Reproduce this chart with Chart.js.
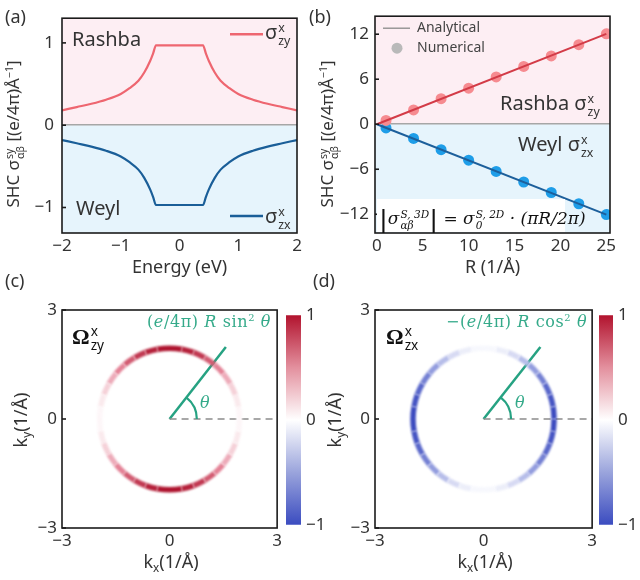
<!DOCTYPE html>
<html>
<head>
<meta charset="utf-8">
<script src="https://cdn.jsdelivr.net/npm/chart.js@4.4.0/dist/chart.umd.min.js"></script>
<style>
html, body { margin: 0; padding: 0; background: #fff; }
#fig { position: relative; width: 640px; height: 580px; overflow: hidden; font-family: "Noto Sans", sans-serif; color: #333; }
canvas { position: absolute; }
.t { position: absolute; white-space: nowrap; line-height: 1; }
.c { transform: translate(-50%, -50%); }
.rot { transform: translate(-50%, -50%) rotate(-90deg); }
.st { display: inline-flex; flex-direction: column; font-size: 0.62em; line-height: 1; vertical-align: 0.55em; margin-left: 1px; }
.sp { font-size: 0.62em; vertical-align: 0.6em; line-height: 0; }
.serif { font-family: "DejaVu Serif", "Liberation Serif", serif; }
.green { color: #35aa8a; letter-spacing: 0.6px; }
.bigbar { font-family: "Liberation Sans", sans-serif; font-size: 1.55em; vertical-align: -0.16em; line-height: 0; font-style: normal; margin: 0 1px; }
</style>
</head>
<body>
<div id="fig">
  <canvas id="cA" width="310" height="290" style="left:0;top:0"></canvas>
  <canvas id="cB" width="320" height="290" style="left:320px;top:0"></canvas>
  <canvas id="cC" width="285" height="290" style="left:0;top:290px"></canvas>
  <canvas id="cD" width="280" height="290" style="left:320px;top:290px"></canvas>
  <canvas id="barC" width="45" height="240" style="left:283px;top:300px"></canvas>
  <canvas id="barD" width="44" height="240" style="left:596px;top:300px"></canvas>

  <div class="t" style="left:5px;top:7px;font-size:18px">(a)</div>
  <div class="t" style="left:309px;top:7px;font-size:18px">(b)</div>
  <div class="t" style="left:5px;top:271px;font-size:18px">(c)</div>
  <div class="t" style="left:313px;top:271px;font-size:18px">(d)</div>

  <div class="t rot" style="left:15px;top:134px;font-size:17px">SHC σ<span class="st"><span>sy</span><span>αβ</span></span> [(e/4π)Å<span class="sp">−1</span>]</div>
  <div class="t rot" style="left:329px;top:134px;font-size:17px">SHC σ<span class="st"><span>sy</span><span>αβ</span></span> [(e/4π)Å<span class="sp">−1</span>]</div>

  <div class="t" style="left:72px;top:29px;font-size:20px">Rashba</div>
  <div class="t" style="left:76px;top:198px;font-size:20px">Weyl</div>
  <div class="t" style="left:265px;top:22px;font-size:20px">σ<span class="st"><span>x</span><span>zy</span></span></div>
  <div class="t" style="left:265px;top:206px;font-size:20px">σ<span class="st"><span>x</span><span>zx</span></span></div>

  <div class="t" style="left:500px;top:93px;font-size:20px">Rashba σ<span class="st"><span>x</span><span>zy</span></span></div>
  <div class="t" style="left:518px;top:134px;font-size:20px">Weyl σ<span class="st"><span>x</span><span>zx</span></span></div>
  <div class="t serif" style="left:377px;top:199px;width:188px;height:33px;background:#fff;font-size:17px;color:#111;">
    <div style="position:absolute;left:2px;top:10px;font-style:italic"><span class="bigbar">|</span>σ<span class="st"><span>S, 3D</span><span>αβ</span></span><span class="bigbar">|</span> = σ<span class="st"><span>S, 2D</span><span>0</span></span> · (π<i>R</i>/2π)</div>
  </div>

  <div class="t c" style="left:22px;top:420px;font-size:18px;transform:translate(-50%,-50%) rotate(-90deg)">k<sub style="font-size:0.65em">y</sub>(1/Å)</div>
  <div class="t c" style="left:336px;top:420px;font-size:18px;transform:translate(-50%,-50%) rotate(-90deg)">k<sub style="font-size:0.65em">y</sub>(1/Å)</div>
  <div class="t c" style="left:171px;top:563px;font-size:18px">k<sub style="font-size:0.65em">x</sub>(1/Å)</div>
  <div class="t c" style="left:485px;top:563px;font-size:18px">k<sub style="font-size:0.65em">x</sub>(1/Å)</div>

  <div class="t" style="left:72px;top:324px;font-size:22px;font-weight:bold;color:#111;font-family:'Liberation Serif',serif">Ω<span class="st" style="font-family:'Noto Sans',sans-serif;font-weight:normal"><span>x</span><span>zy</span></span></div>
  <div class="t" style="left:386px;top:324px;font-size:22px;font-weight:bold;color:#111;font-family:'Liberation Serif',serif">Ω<span class="st" style="font-family:'Noto Sans',sans-serif;font-weight:normal"><span>x</span><span>zx</span></span></div>
  <div class="t serif green" style="left:147px;top:314px;font-size:16px">(<i>e</i>/4π) <i>R</i> sin<span class="sp">2</span> <i>θ</i></div>
  <div class="t serif green" style="left:446px;top:314px;font-size:16px">−(<i>e</i>/4π) <i>R</i> cos<span class="sp">2</span> <i>θ</i></div>
  <div class="t serif green" style="left:200px;top:395px;font-size:16px;font-style:italic">θ</div>
  <div class="t serif green" style="left:515px;top:395px;font-size:16px;font-style:italic">θ</div>
</div>

<script>
// (a) SHC vs energy
var energy = [-2, -1.75, -1.5, -1.25, -1, -0.85, -0.7, -0.6, -0.5, -0.45, -0.4, 0.4, 0.45, 0.5, 0.6, 0.7, 0.85, 1, 1.25, 1.5, 1.75, 2];
var rashbaSHC = [0.18, 0.22, 0.26, 0.31, 0.38, 0.45, 0.54, 0.64, 0.78, 0.87, 0.97, 0.97, 0.87, 0.78, 0.64, 0.54, 0.45, 0.38, 0.31, 0.26, 0.22, 0.18];
var weylSHC = [-0.18, -0.22, -0.26, -0.31, -0.38, -0.45, -0.54, -0.64, -0.78, -0.87, -0.97, -0.97, -0.87, -0.78, -0.64, -0.54, -0.45, -0.38, -0.31, -0.26, -0.22, -0.18];
var ticksAx = [-2, -1, 0, 1, 2];
var ticksAy = [-1, 0, 1];

// (b) SHC vs R
var radiusR = [1, 4, 7, 10, 13, 16, 19, 22, 25];
var rashbaNum = [0.5, 1.9, 3.4, 4.8, 6.3, 7.7, 9.1, 10.6, 12.05];
var weylNum = [-0.5, -1.9, -3.4, -4.8, -6.3, -7.7, -9.1, -10.6, -12.05];
var fitR = [0, 25];
var rashbaFit = [0, 12.05];
var weylFit = [0, -12.05];
var ticksBx = [0, 5, 10, 15, 20, 25];
var ticksBy = [-12, -6, 0, 6, 12];
var legendB = ['Analytical', 'Numerical'];

// (c)/(d) Berry-curvature rings
var ringAngle = [0, 10, 20, 30, 40, 50, 60, 70, 80, 90, 100, 110, 120, 130, 140, 150, 160, 170, 180,
  190, 200, 210, 220, 230, 240, 250, 260, 270, 280, 290, 300, 310, 320, 330, 340, 350, 360];
var ringK = 1.95;
var omegaZy = [0.02, 0.05, 0.12, 0.25, 0.42, 0.58, 0.75, 0.88, 0.96, 1, 0.96, 0.88, 0.75, 0.58, 0.42, 0.25, 0.12, 0.05, 0.02,
  0.05, 0.12, 0.25, 0.42, 0.58, 0.75, 0.88, 0.96, 1, 0.96, 0.88, 0.75, 0.58, 0.42, 0.25, 0.12, 0.05, 0.02];
var omegaZx = [1, 0.96, 0.88, 0.75, 0.58, 0.42, 0.25, 0.12, 0.05, 0.02, 0.05, 0.12, 0.25, 0.42, 0.58, 0.75, 0.88, 0.96, 1,
  0.96, 0.88, 0.75, 0.58, 0.42, 0.25, 0.12, 0.05, 0.02, 0.05, 0.12, 0.25, 0.42, 0.58, 0.75, 0.88, 0.96, 1];
var rayEnd = [1.57, 1.98];
var arcRadius = 0.76;
var ticksK = [-3, 0, 3];
var ticksBar = [-1, 0, 1];

var redStops = [[255, 255, 255], [228, 130, 150], [172, 14, 42]];
var blueStops = [[255, 255, 255], [146, 156, 222], [56, 72, 190]];
var cbStops = [[0, '#3b4cc0'], [0.25, '#9aa4dc'], [0.5, '#ffffff'], [0.75, '#e3909e'], [1, '#b2132e']];

Chart.defaults.font.family = '"Noto Sans", sans-serif';
Chart.defaults.color = '#333';
Chart.defaults.animation = false;

function setTicks(list) {
  return function (scale) { scale.ticks = list.map(function (v) { return { value: v }; }); };
}
function fixWidth(w) { return function (scale) { scale.width = w; }; }
function fixHeight(h) { return function (scale) { scale.height = h; }; }
function fmt(v) { return v < 0 ? '\u2212' + Math.abs(v) : String(v); }
function zeroGrid(ctx) { return ctx.tick && ctx.tick.value === 0 ? '#a6a6a6' : 'rgba(0,0,0,0)'; }
function xy(xs, ys) { return xs.map(function (x, i) { return { x: x, y: ys[i] }; }); }

function heat(v, stops) {
  var a, b, t;
  if (v <= 0.5) { a = stops[0]; b = stops[1]; t = v / 0.5; } else { a = stops[1]; b = stops[2]; t = (v - 0.5) / 0.5; }
  var c = a.map(function (q, i) { return Math.round(q + (b[i] - q) * t); });
  return 'rgb(' + c.join(',') + ')';
}
function segColor(vals, stops) {
  return function (ctx) { return heat((vals[ctx.p0DataIndex] + vals[ctx.p1DataIndex]) / 2, stops); };
}
var ringPts = ringAngle.map(function (a) {
  var r = a * Math.PI / 180;
  return { x: ringK * Math.cos(r), y: ringK * Math.sin(r) };
});

// pink/blue halves, black frame and inward ticks
Chart.register({
  id: 'frame',
  beforeDraw: function (chart, args, opts) {
    if (!opts.split) return;
    var a = chart.chartArea, ctx = chart.ctx;
    var y0 = chart.scales.y.getPixelForValue(0);
    ctx.save();
    ctx.fillStyle = '#fdeef3';
    ctx.fillRect(a.left, a.top, a.width, y0 - a.top);
    ctx.fillStyle = '#e6f4fc';
    ctx.fillRect(a.left, y0, a.width, a.bottom - y0);
    ctx.restore();
  },
  afterDraw: function (chart, args, opts) {
    if (!opts.box) return;
    var a = chart.chartArea, ctx = chart.ctx, ys = chart.scales.y;
    ctx.save();
    ctx.strokeStyle = '#1b1b1b';
    ctx.lineWidth = 1.6;
    ctx.strokeRect(a.left, a.top, a.width, a.height);
    ys.ticks.forEach(function (t) {
      var y = ys.getPixelForValue(t.value);
      ctx.beginPath(); ctx.moveTo(a.left, y); ctx.lineTo(a.left + 4, y); ctx.stroke();
    });
    ctx.restore();
  }
});

// soft (blurred) ring
Chart.register({
  id: 'soft',
  beforeDatasetDraw: function (chart, args) {
    if (chart.data.datasets[args.index].soft) { chart.ctx.save(); chart.ctx.filter = 'blur(1.2px)'; }
  },
  afterDatasetDraw: function (chart, args) {
    if (chart.data.datasets[args.index].soft) chart.ctx.restore();
  }
});

var legendA = {
  id: 'legendA',
  afterDraw: function (chart) {
    var a = chart.chartArea, ctx = chart.ctx;
    ctx.save();
    ctx.lineWidth = 2.4;
    ctx.strokeStyle = '#ee6670';
    ctx.beginPath(); ctx.moveTo(a.right - 67, a.top + 16); ctx.lineTo(a.right - 34, a.top + 16); ctx.stroke();
    ctx.strokeStyle = '#1a5e98';
    ctx.beginPath(); ctx.moveTo(a.right - 67, a.bottom - 17); ctx.lineTo(a.right - 34, a.bottom - 17); ctx.stroke();
    ctx.restore();
  }
};

// analytical / numerical key in the corner of (b)
var keyB = {
  id: 'keyB',
  afterDatasetsDraw: function (chart) {
    var a = chart.chartArea, ctx = chart.ctx;
    ctx.save();
    ctx.strokeStyle = '#8a8a8a';
    ctx.lineWidth = 1.3;
    ctx.beginPath(); ctx.moveTo(a.left + 8, a.top + 12); ctx.lineTo(a.left + 35, a.top + 12); ctx.stroke();
    ctx.fillStyle = '#b9b9b9';
    ctx.beginPath(); ctx.arc(a.left + 22, a.top + 32, 5.5, 0, Math.PI * 2); ctx.fill();
    ctx.fillStyle = '#444';
    ctx.font = '14px "Noto Sans", sans-serif';
    ctx.textBaseline = 'middle';
    ctx.fillText(legendB[0], a.left + 42, a.top + 12);
    ctx.fillText(legendB[1], a.left + 42, a.top + 32);
    ctx.restore();
  }
};

var angleArc = {
  id: 'angleArc',
  afterDatasetsDraw: function (chart) {
    var xs = chart.scales.x, ys = chart.scales.y, ctx = chart.ctx;
    var cx = xs.getPixelForValue(0), cy = ys.getPixelForValue(0);
    var r = xs.getPixelForValue(arcRadius) - cx;
    var th = Math.atan2(rayEnd[1], rayEnd[0]);
    ctx.save();
    ctx.strokeStyle = '#26a282';
    ctx.lineWidth = 2.2;
    ctx.beginPath(); ctx.arc(cx, cy, r, -th, 0); ctx.stroke();
    ctx.restore();
  }
};

var tickFont = { size: 17 };

// (a)
new Chart(document.getElementById('cA'), {
  type: 'scatter',
  data: {
    datasets: [
      { data: xy(energy, rashbaSHC), showLine: true, pointRadius: 0, borderColor: '#ee6670', borderWidth: 2.2, cubicInterpolationMode: 'monotone' },
      { data: xy(energy, weylSHC), showLine: true, pointRadius: 0, borderColor: '#1a5e98', borderWidth: 2.2, cubicInterpolationMode: 'monotone' }
    ]
  },
  options: {
    responsive: false,
    layout: { padding: { left: 22, top: 15, right: 13, bottom: 7 } },
    plugins: { legend: { display: false }, tooltip: { enabled: false }, frame: { split: true, box: true } },
    scales: {
      x: {
        type: 'linear', min: -2, max: 2, afterFit: fixHeight(50), afterBuildTicks: setTicks(ticksAx),
        grid: { display: false, drawTicks: false }, border: { display: false },
        ticks: { padding: 3, font: tickFont, callback: fmt, maxRotation: 0 },
        title: { display: true, text: 'Energy (eV)', font: { size: 18 }, padding: { top: 0, bottom: 4 } }
      },
      y: {
        min: -1.31, max: 1.3, afterFit: fixWidth(40), afterBuildTicks: setTicks(ticksAy),
        grid: { color: zeroGrid, lineWidth: 1.5, drawTicks: false }, border: { display: false },
        ticks: { padding: 8, font: tickFont, callback: fmt }
      }
    }
  },
  plugins: [legendA]
});

// (b)
new Chart(document.getElementById('cB'), {
  type: 'scatter',
  data: {
    datasets: [
      { data: xy(fitR, rashbaFit), showLine: true, pointRadius: 0, borderColor: '#d33b47', borderWidth: 2 },
      { data: xy(fitR, weylFit), showLine: true, pointRadius: 0, borderColor: '#1d5f9b', borderWidth: 2 },
      { data: xy(radiusR, rashbaNum), pointRadius: 5.5, backgroundColor: '#f68b90', borderWidth: 0 },
      { data: xy(radiusR, weylNum), pointRadius: 5.5, backgroundColor: '#1e9de8', borderWidth: 0 }
    ]
  },
  options: {
    responsive: false,
    layout: { padding: { left: 15, top: 15, right: 30, bottom: 7 } },
    plugins: { legend: { display: false }, tooltip: { enabled: false }, frame: { split: true, box: true } },
    scales: {
      x: {
        type: 'linear', min: -0.2, max: 25.4, afterFit: fixHeight(50), afterBuildTicks: setTicks(ticksBx),
        grid: { display: false, drawTicks: false }, border: { display: false },
        ticks: { padding: 3, font: tickFont, callback: fmt, maxRotation: 0 },
        title: { display: true, text: 'R (1/Å)', font: { size: 18 }, padding: { top: 0, bottom: 4 } }
      },
      y: {
        min: -14.5, max: 14.4, afterFit: fixWidth(40), afterBuildTicks: setTicks(ticksBy),
        grid: { color: zeroGrid, lineWidth: 1.5, drawTicks: false }, border: { display: false },
        ticks: { padding: 6, font: tickFont, callback: fmt }
      }
    }
  },
  plugins: [keyB]
});

function kScales() {
  return {
    x: {
      type: 'linear', min: -3, max: 3, afterFit: fixHeight(30), afterBuildTicks: setTicks(ticksK),
      grid: { display: false, drawTicks: false }, border: { display: false },
      ticks: { padding: 3, font: tickFont, callback: fmt, maxRotation: 0 }
    },
    y: {
      min: -3, max: 3, afterFit: fixWidth(40), afterBuildTicks: setTicks(ticksK),
      grid: { display: false, drawTicks: false }, border: { display: false },
      ticks: { padding: 5, font: tickFont, callback: fmt }
    }
  };
}

function ringChart(id, vals, stops, pad) {
  new Chart(document.getElementById(id), {
    type: 'scatter',
    data: {
      datasets: [
        { data: ringPts, showLine: true, pointRadius: 0, borderWidth: 5.5, tension: 0.4, soft: true, borderColor: '#fff',
          segment: { borderColor: segColor(vals, stops) } },
        { data: [{ x: 0, y: 0 }, { x: 3, y: 0 }], showLine: true, pointRadius: 0, borderColor: '#8c8c8c', borderWidth: 1.6, borderDash: [7, 5] },
        { data: [{ x: 0, y: 0 }, { x: rayEnd[0], y: rayEnd[1] }], showLine: true, pointRadius: 0, borderColor: '#26a282', borderWidth: 2.5 }
      ]
    },
    options: {
      responsive: false,
      layout: { padding: pad },
      plugins: { legend: { display: false }, tooltip: { enabled: false }, frame: { box: true } },
      scales: kScales()
    },
    plugins: [angleArc]
  });
}
ringChart('cC', omegaZy, redStops, { left: 22, top: 20, right: 5, bottom: 22 });
ringChart('cD', omegaZx, blueStops, { left: 15, top: 20, right: 5, bottom: 22 });

function cbFill(ctx) {
  var a = ctx.chart.chartArea;
  if (!a) return '#fff';
  var g = ctx.chart.ctx.createLinearGradient(0, a.bottom, 0, a.top);
  cbStops.forEach(function (s) { g.addColorStop(s[0], s[1]); });
  return g;
}
function colorbar(id, pad) {
  new Chart(document.getElementById(id), {
    type: 'bar',
    data: { labels: [''], datasets: [{ data: [[-1, 1]], backgroundColor: cbFill, borderWidth: 0, barPercentage: 1, categoryPercentage: 1 }] },
    options: {
      responsive: false,
      layout: { padding: pad },
      plugins: { legend: { display: false }, tooltip: { enabled: false } },
      scales: {
        x: { display: false },
        y: {
          position: 'right', min: -1, max: 1, afterFit: fixWidth(25), afterBuildTicks: setTicks(ticksBar),
          grid: { display: false, drawTicks: false }, border: { display: false },
          ticks: { padding: 5, font: tickFont, callback: fmt }
        }
      }
    }
  });
}
colorbar('barC', { left: 3, top: 11, right: 2, bottom: 11 });
colorbar('barD', { left: 3, top: 10, right: 2, bottom: 11 });
</script>
</body>
</html>
